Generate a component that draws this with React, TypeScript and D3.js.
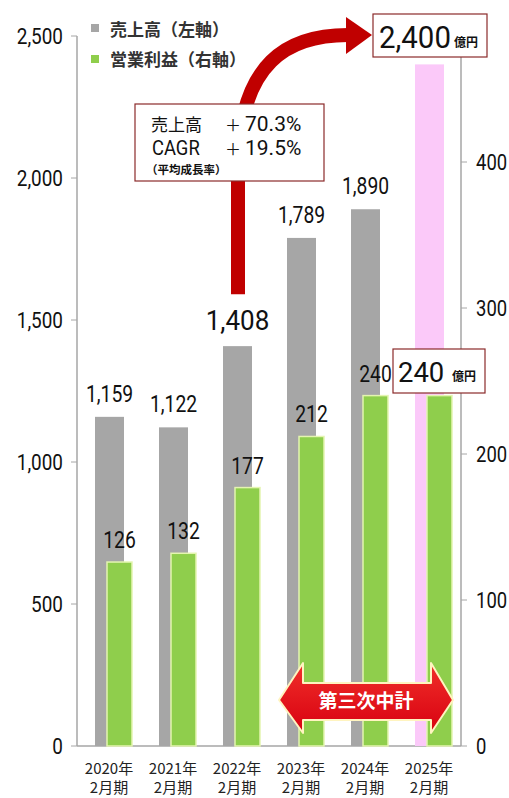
import React from "react"
import * as d3 from "d3"

const years = ["2020年", "2021年", "2022年", "2023年", "2024年", "2025年"]
const periodLabel = "2月期"
const sales = [1159, 1122, 1408, 1789, 1890, 2400]
const opProfit = [126, 132, 177, 212, 240, 240]
const leftTicks = [0, 500, 1000, 1500, 2000, 2500]
const rightTicks = [0, 100, 200, 300, 400]

const planIndex = 5
const highlightIndex = 2

const W = 509
const H = 798
const numFont = "Roboto, 'Liberation Sans', sans-serif"
const jpFont = "'Noto Sans CJK JP', 'Noto Sans', sans-serif"
const axisColor = "#a6a6a6"
const boxStroke = "#8b2a2a"

const fmt = d3.format(",")

// narrow numeric text (the source uses a condensed face)
const NT = ({
  x,
  y,
  size,
  sx = 0.85,
  anchor = "start",
  children
}: {
  x: number
  y: number
  size: number
  sx?: number
  anchor?: string
  children: React.ReactNode
}) => (
  <text
    transform={`translate(${x},${y}) scale(${sx},1)`}
    textAnchor={anchor}
    fontFamily={numFont}
    fontSize={size}
    fill="#111"
  >
    {children}
  </text>
)

export default function App() {
  const x = d3.scaleBand<string>().domain(years).range([77, 461]).paddingInner(0)
  const yL = d3.scaleLinear().domain([0, 2500]).range([746, 36])
  const yR = d3.scaleLinear().domain([0, 500]).range([746, 16])

  // red curved arrow from the 2022 bar to the 2025 target
  const stemX = (x(years[highlightIndex]) ?? 0) + 33
  const stemBottom = yL(sales[highlightIndex]) - 52
  const headBase = 346
  const headY = 35
  const curve = d3.path()
  curve.moveTo(stemX, stemBottom)
  curve.lineTo(stemX, 170)
  curve.bezierCurveTo(stemX, 60, 290, headY, headBase + 2, headY)

  // double arrow for the third mid-term plan
  const aL = (x(years[3]) ?? 0) + 10
  const aR = (x(years[5]) ?? 0) + 56
  const aMid = 700
  const dbl = [
    [aL, aMid],
    [aL + 24, aMid - 37],
    [aL + 24, aMid - 17],
    [aR - 22, aMid - 17],
    [aR - 22, aMid - 37],
    [aR, aMid],
    [aR - 22, aMid + 33],
    [aR - 22, aMid + 20],
    [aL + 24, aMid + 20],
    [aL + 24, aMid + 33]
  ]

  return (
    <svg width={W} height={H} style={{ position: "absolute", left: 0, top: 0, background: "white" }}>
      <defs>
        <linearGradient id="redGrad" x1="0" y1="0" x2="0" y2="1">
          <stop offset="0" stopColor="#f0302a" />
          <stop offset="1" stopColor="#d80010" />
        </linearGradient>
      </defs>

      {/* axes */}
      <line x1={77} x2={77} y1={yL(2500)} y2={yL(0)} stroke={axisColor} strokeWidth={1.5} />
      <line x1={461} x2={461} y1={yR(500)} y2={yR(0)} stroke={axisColor} strokeWidth={1.5} />
      <line x1={77} x2={461} y1={yL(0)} y2={yL(0)} stroke={axisColor} strokeWidth={1.5} />
      {leftTicks.map(t => (
        <g key={"l" + t}>
          <line x1={71} x2={77} y1={yL(t)} y2={yL(t)} stroke={axisColor} />
          <NT x={63} y={yL(t) + 8} size={22} sx={0.86} anchor="end">
            {fmt(t)}
          </NT>
        </g>
      ))}
      {rightTicks.map(t => (
        <g key={"r" + t}>
          <line x1={461} x2={467} y1={yR(t)} y2={yR(t)} stroke={axisColor} />
          <NT x={476} y={yR(t) + 8} size={22} sx={0.84}>
            {t}
          </NT>
        </g>
      ))}

      {/* bars */}
      {years.map((c, i) => (
        <rect
          key={"s" + c}
          x={(x(c) ?? 0) + 18}
          width={29}
          y={yL(sales[i])}
          height={yL(0) - yL(sales[i])}
          fill={i === planIndex ? "#fbc9f9" : "#a6a6a6"}
        />
      ))}
      {years.map((c, i) => (
        <rect
          key={"p" + c}
          x={(x(c) ?? 0) + 30}
          width={25}
          y={yR(opProfit[i])}
          height={yR(0) - yR(opProfit[i])}
          fill="#8fce4c"
          stroke="#e4f5b0"
          strokeWidth={1.5}
        />
      ))}

      {/* value labels */}
      {years.map((c, i) =>
        i === planIndex ? null : (
          <NT
            key={"sl" + c}
            x={(x(c) ?? 0) + 32.5}
            y={yL(sales[i]) - (i === highlightIndex ? 16 : 15)}
            anchor="middle"
            size={i === highlightIndex ? 28 : 23}
            sx={i === highlightIndex ? 0.93 : 0.84}
          >
            {fmt(sales[i])}
          </NT>
        )
      )}
      {years.map((c, i) =>
        i === planIndex ? null : (
          <NT key={"pl" + c} x={(x(c) ?? 0) + 42.5} y={yR(opProfit[i]) - 14} anchor="middle" size={23} sx={0.84}>
            {opProfit[i]}
          </NT>
        )
      )}

      {/* x labels */}
      {years.map(c => (
        <g key={"x" + c} fontFamily={jpFont} fontSize={15} fill="#222" textAnchor="middle">
          <text x={(x(c) ?? 0) + 32} y={774}>{c}</text>
          <text x={(x(c) ?? 0) + 32} y={793}>{periodLabel}</text>
        </g>
      ))}

      {/* legend */}
      <rect x={91} y={24} width={8} height={8} fill="#a6a6a6" />
      <text x={110} y={36} fontFamily={jpFont} fontSize={17} fontWeight="bold" fill="#333">
        売上高（左軸）
      </text>
      <rect x={91} y={55} width={8} height={8} fill="#8fce4c" />
      <text x={110} y={66} fontFamily={jpFont} fontSize={17} fontWeight="bold" fill="#333">
        営業利益（右軸）
      </text>

      {/* curved arrow */}
      <path d={curve.toString()} fill="none" stroke="#c00000" strokeWidth={14} />
      <polygon
        points={`${headBase},${headY - 18} ${372},${headY} ${headBase},${headY + 19}`}
        fill="#c00000"
      />

      {/* callout box */}
      <rect x={135} y={104} width={189} height={77} fill="white" stroke={boxStroke} strokeWidth={1.2} />
      <g fontFamily={jpFont} fill="#111">
        <text x={151} y={131} fontSize={17}>売上高</text>
        <text x={225} y={131} fontSize={16}>＋</text>
        <NT x={245} y={131} size={20} sx={1.05}>70.3%</NT>
        <NT x={152} y={155} size={20} sx={0.92}>CAGR</NT>
        <text x={225} y={155} fontSize={16}>＋</text>
        <NT x={245} y={155} size={20} sx={1.05}>19.5%</NT>
        <text x={146} y={174} fontSize={11.5} fontWeight="bold">（平均成長率）</text>
      </g>

      {/* target boxes */}
      <rect x={373} y={14} width={114} height={43} fill="white" stroke={boxStroke} strokeWidth={1.2} />
      <NT x={379} y={48} size={32} sx={0.92}>
        {fmt(sales[planIndex])}
      </NT>
      <text x={454} y={47} fontFamily={jpFont} fontSize={12} fontWeight="bold" fill="#111">
        億円
      </text>
      <rect x={393} y={349} width={92} height={44} fill="white" stroke={boxStroke} strokeWidth={1.2} />
      <NT x={398} y={382} size={28} sx={0.98}>
        {opProfit[planIndex]}
      </NT>
      <text x={452} y={381} fontFamily={jpFont} fontSize={12} fontWeight="bold" fill="#111">
        億円
      </text>

      {/* mid-term plan arrow */}
      <polygon
        points={dbl.map(p => p.join(",")).join(" ")}
        fill="url(#redGrad)"
        stroke="#fff4c0"
        strokeWidth={2}
        strokeLinejoin="round"
      />
      <text
        x={(aL + aR) / 2}
        y={aMid + 8}
        textAnchor="middle"
        fontFamily={jpFont}
        fontSize={19}
        fontWeight="bold"
        fill="white"
      >
        第三次中計
      </text>
    </svg>
  )
}
